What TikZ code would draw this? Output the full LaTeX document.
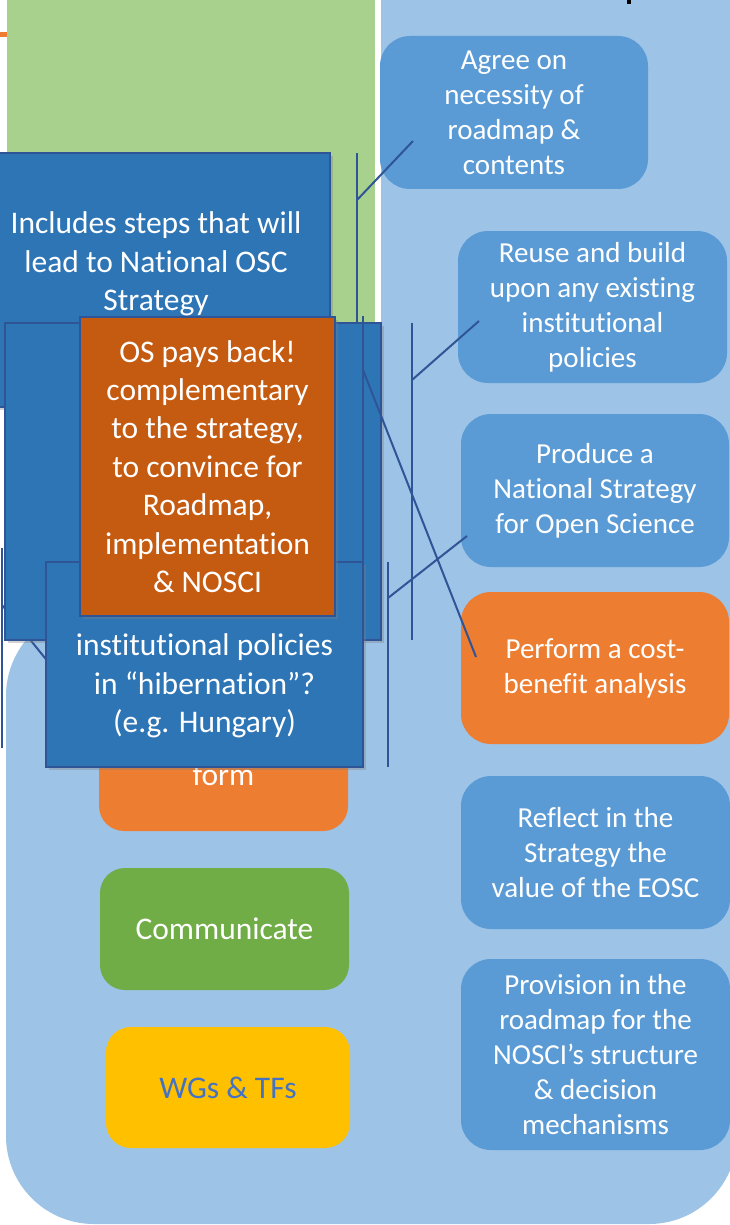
\documentclass[tikz,border=0pt]{standalone}
\usepackage{fontspec}
\setmainfont{Carlito}[Ligatures={NoCommon,NoContextual},RawFeature={-calt}]
\usetikzlibrary{shadows}
\newcommand{\nlg}{\kern0pt}
\definecolor{greenpanel}{HTML}{A9D18E}
\definecolor{bluepanel}{HTML}{9DC3E6}
\definecolor{midblue}{HTML}{5B9BD5}
\definecolor{orangebox}{HTML}{ED7D31}
\definecolor{darkblue}{HTML}{2E75B6}
\definecolor{darkborder}{HTML}{2F5597}
\definecolor{darkorange}{HTML}{C55A11}
\definecolor{greenbox}{HTML}{70AD47}
\definecolor{yellowbox}{HTML}{FFC000}
\definecolor{wgtext}{HTML}{4472C4}
\begin{document}
\begin{tikzpicture}[x=1pt,y=-1pt,
  rightbox/.style={fill=midblue, rounded corners=30pt, text=white, align=center,
    font=\fontsize{29}{35}\selectfont, inner sep=0pt},
  leftbox/.style={rounded corners=25pt, text=white, align=center,
    font=\fontsize{31.5}{38.4}\selectfont, inner sep=0pt},
  calloutbox/.style={draw=darkborder, line width=2pt, fill=darkblue, inner sep=0pt,
    text=white, align=center, font=\fontsize{31.5}{38.4}\selectfont,
    drop shadow={shadow xshift=3pt, shadow yshift=-3pt, opacity=0.35}},
  ctext/.style={text=white, align=center, font=\fontsize{31.5}{38.4}\selectfont, inner sep=0pt},
  accentline/.style={draw=darkborder, line width=2pt}
]
\useasboundingbox (0,0) rectangle (730,1225);
\clip (0,0) rectangle (730,1225);
\fill[white] (0,0) rectangle (730,1225);
% background panels
\fill[orangebox] (0,32) rectangle (7,37);
\fill[greenpanel] (7,-5) rectangle (375,600);
\fill[bluepanel] (381,-5) rectangle (745,700);
\fill[bluepanel, rounded corners=88pt] (6,608) rectangle (737,1224);
\fill[black] (627,-2) rectangle (631,4);
% right column
\node[rightbox, minimum width=268pt, minimum height=153pt] (agree) at (514,112.5)
  {Agree on\\necessity of\\roadmap \&\\contents};
\node[rightbox, minimum width=269pt, minimum height=152pt] (reuse) at (592.5,307)
  {Reuse and build\\upon any exist\nlg ing\\inst\nlg itut\nlg ional\\policies};
\node[rightbox, minimum width=268pt, minimum height=153pt] (produce) at (595,490.5)
  {Produce a\\Nat\nlg ional Strategy\\for Open Science};
\node[rightbox, fill=orangebox, minimum width=268pt, minimum height=152pt] (perform) at (595,668)
  {Perform a cost-\\benef\nlg it analysis};
\node[rightbox, minimum width=269pt, minimum height=153pt] (reflect) at (595.5,852.5)
  {Reflect in the\\Strategy the\\value of the EOSC};
\node[rightbox, minimum width=269pt, minimum height=191pt] (provision) at (595.5,1054.5)
  {Provision in the\\roadmap for the\\NOSCI’s structure\\\& decision\\mechanisms};
% left column
\node[leftbox, fill=orangebox, minimum width=249pt, minimum height=131pt] (form) at (223.5,765.5) {};
\node[ctext, anchor=base] (formtext) at (223.5,785) {form};
\node[leftbox, fill=greenbox, minimum width=249pt, minimum height=122pt] (comm) at (224.5,929) {Communicate};
\node[leftbox, fill=yellowbox, text=wgtext, minimum width=244pt, minimum height=121pt] (wgs) at (228,1087.5) {WGs \& TFs};
% callout at the far left edge
\coordinate (Lbtop) at (2,548);
\coordinate (Lbbot) at (2,748);
\coordinate (Lbpt) at (2,605);
\coordinate (Lend) at (75,695);
\draw[accentline] (Lbtop) -- (Lbbot);
\draw[accentline] (Lbpt) -- (Lend);
% callout A
\node[calloutbox, minimum width=350pt, minimum height=254pt] (boxA) at (155,280) {};
\node[ctext] (boxAtext) at (156,264) {Includes steps that will\\lead to Nat\nlg ional OSC\\Strategy};
\coordinate (Abtop) at (357,153);
\coordinate (Abbot) at (357,407);
\coordinate (Abpt) at (357,200);
\coordinate (Aend) at (413,141);
\draw[accentline] (Abtop) -- (Abbot);
\draw[accentline] (Abpt) -- (Aend);
% callout B
\node[calloutbox, minimum width=376pt, minimum height=317pt] (boxB) at (193,481.5) {};
\coordinate (Bbtop) at (412,323);
\coordinate (Bbbot) at (412,640);
\coordinate (Bbpt) at (412,380);
\coordinate (Bend) at (479,321);
\draw[accentline] (Bbtop) -- (Bbbot);
\draw[accentline] (Bbpt) -- (Bend);
% callout C
\node[calloutbox, minimum width=317pt, minimum height=205pt] (boxC) at (204.5,664.5) {};
\node[ctext] (boxCtext) at (204.5,686) {inst\nlg itut\nlg ional policies\\in “hibernat\nlg ion”?\\(e.g. Hungary)};
\coordinate (Cbtop) at (388,562);
\coordinate (Cbbot) at (388,767);
\coordinate (Cbpt) at (388,598);
\coordinate (Cend) at (467,536);
\draw[accentline] (Cbtop) -- (Cbbot);
\draw[accentline] (Cbpt) -- (Cend);
% callout D
\node[calloutbox, fill=darkorange, minimum width=255pt, minimum height=299pt] (boxD) at (207.5,466.5)
  {OS pays back!\\complementary\\to the strategy,\\to convince for\\Roadmap,\\implementat\nlg ion\\\& NOSCI};
\coordinate (Dbtop) at (363,316);
\coordinate (Dbbot) at (363,616);
\coordinate (Dbpt) at (363,370);
\coordinate (Dend) at (476,657);
\draw[accentline] (Dbtop) -- (Dbbot);
\draw[accentline] (Dbpt) -- (Dend);
\end{tikzpicture}
\end{document}
